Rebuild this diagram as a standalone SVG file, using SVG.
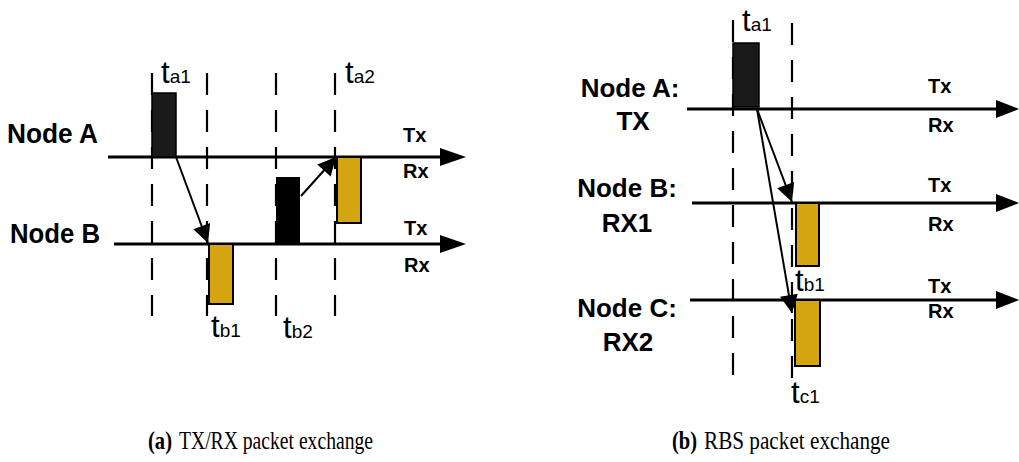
<svg xmlns="http://www.w3.org/2000/svg" width="1019" height="462" viewBox="0 0 1019 462">
<style>
.lbl{font-family:"Liberation Sans",Arial,sans-serif;font-weight:bold;font-size:26px;fill:#000}
.lblL{font-family:"Liberation Sans",Arial,sans-serif;font-weight:bold;font-size:28px;fill:#000}
.trx{font-family:"Liberation Sans",Arial,sans-serif;font-weight:bold;font-size:20px;fill:#000}
.ts{font-family:"Liberation Sans",Arial,sans-serif;font-size:31px;fill:#000}
.sub{font-size:19px}
.cap{font-family:"Liberation Serif","Times New Roman",serif;font-size:25px;fill:#000}
.capb{font-family:"Liberation Serif","Times New Roman",serif;font-size:25px;font-weight:bold;fill:#000}
.axis{stroke:#000;stroke-width:3;fill:none}
.dash{stroke:#000;stroke-width:2.2;stroke-dasharray:22 15;fill:none}
.gold{fill:#d4a510;stroke:#000;stroke-width:2}
.blk{fill:#1a1a1a;stroke:#000;stroke-width:1.5}
.conn{stroke:#000;stroke-width:2;fill:none}
.head{fill:#000}
</style>
<defs>
<marker id="ah" viewBox="0 0 10 10" refX="10" refY="5" markerWidth="11" markerHeight="9" markerUnits="strokeWidth" orient="auto">
<path d="M0,0 L10,5 L0,10 z" fill="#000"/>
</marker>
</defs>

<!-- ===== Diagram (a) ===== -->
<g id="timelines-a">
<line class="dash" x1="152" y1="73" x2="152" y2="316"/>
<line class="dash" x1="207" y1="73" x2="207" y2="316"/>
<line class="dash" x1="276" y1="73" x2="276" y2="316"/>
<line class="dash" x1="335" y1="73" x2="335" y2="316"/>
</g>

<g id="a-nodeA">
<text class="lblL" x="7" y="143" textLength="91" lengthAdjust="spacingAndGlyphs">Node A</text>
<line class="axis" x1="108" y1="157" x2="442" y2="157"/>
<polygon class="head" points="440,148 466,157 440,166"/>
<text class="trx" x="403" y="142">Tx</text>
<text class="trx" x="403" y="178">Rx</text>
<rect class="blk" x="152" y="93" width="24" height="64"/>
<rect class="gold" x="337" y="157" width="24" height="66"/>
<text class="ts" x="161" y="83">t<tspan class="sub">a1</tspan></text>
<text class="ts" x="345" y="83">t<tspan class="sub">a2</tspan></text>
</g>

<g id="a-nodeB">
<text class="lblL" x="10" y="243" textLength="90" lengthAdjust="spacingAndGlyphs">Node B</text>
<line class="axis" x1="114" y1="244" x2="442" y2="244"/>
<polygon class="head" points="440,235 466,244 440,253"/>
<text class="trx" x="404" y="235">Tx</text>
<text class="trx" x="404" y="272">Rx</text>
<rect class="gold" x="209" y="244" width="24" height="60"/>
<rect x="276" y="177" width="24" height="67" fill="#000"/>
<text class="ts" x="211" y="337">t<tspan class="sub">b1</tspan></text>
<text class="ts" x="283" y="338">t<tspan class="sub">b2</tspan></text>
</g>

<!-- ===== Diagram (b) ===== -->
<g id="timelines-b">
<line class="dash" x1="733" y1="20" x2="733" y2="386"/>
<line class="dash" x1="792" y1="23" x2="792" y2="386"/>
</g>

<g id="b-nodeA">
<text class="lbl" x="630" y="97" text-anchor="middle">Node A:</text>
<text class="lbl" x="633" y="130" text-anchor="middle">TX</text>
<line class="axis" x1="687" y1="109" x2="998" y2="109"/>
<polygon class="head" points="996,100 1019,109 996,118"/>
<text class="trx" x="928" y="93">Tx</text>
<text class="trx" x="928" y="132">Rx</text>
<rect class="blk" x="733" y="43" width="26" height="64"/>
<text class="ts" x="742" y="31">t<tspan class="sub">a1</tspan></text>
</g>

<g id="b-nodeB">
<text class="lbl" x="627" y="197" text-anchor="middle">Node B:</text>
<text class="lbl" x="627" y="232" text-anchor="middle">RX1</text>
<line class="axis" x1="692" y1="203" x2="998" y2="203"/>
<polygon class="head" points="996,194 1019,203 996,212"/>
<text class="trx" x="928" y="192">Tx</text>
<text class="trx" x="928" y="231">Rx</text>
<rect class="gold" x="796" y="203" width="23" height="63"/>
<text class="ts" x="795" y="291">t<tspan class="sub">b1</tspan></text>
</g>

<g id="b-nodeC">
<text class="lbl" x="627" y="317" text-anchor="middle">Node C:</text>
<text class="lbl" x="628" y="351" text-anchor="middle">RX2</text>
<line class="axis" x1="690" y1="300" x2="998" y2="300"/>
<polygon class="head" points="996,291 1019,300 996,309"/>
<text class="trx" x="928" y="293">Tx</text>
<text class="trx" x="928" y="318">Rx</text>
<rect class="gold" x="795" y="300" width="25" height="66"/>
<text class="ts" x="791" y="403">t<tspan class="sub">c1</tspan></text>
</g>

<g id="connectors">
<line class="conn" x1="176" y1="157" x2="208" y2="243" marker-end="url(#ah)"/>
<line class="conn" x1="301" y1="196" x2="336" y2="157" marker-end="url(#ah)"/>
<line class="conn" x1="757" y1="109" x2="792" y2="202" marker-end="url(#ah)"/>
<line class="conn" x1="757" y1="109" x2="792" y2="313" marker-end="url(#ah)"/>
</g>

<g id="captions">
<text class="capb" x="148" y="449" textLength="24" lengthAdjust="spacingAndGlyphs">(a)</text>
<text class="cap" x="179" y="449" textLength="194" lengthAdjust="spacingAndGlyphs">TX/RX packet exchange</text>
<text class="capb" x="672" y="449" textLength="25" lengthAdjust="spacingAndGlyphs">(b)</text>
<text class="cap" x="704" y="449" textLength="186" lengthAdjust="spacingAndGlyphs">RBS packet exchange</text>
</g>
</svg>
